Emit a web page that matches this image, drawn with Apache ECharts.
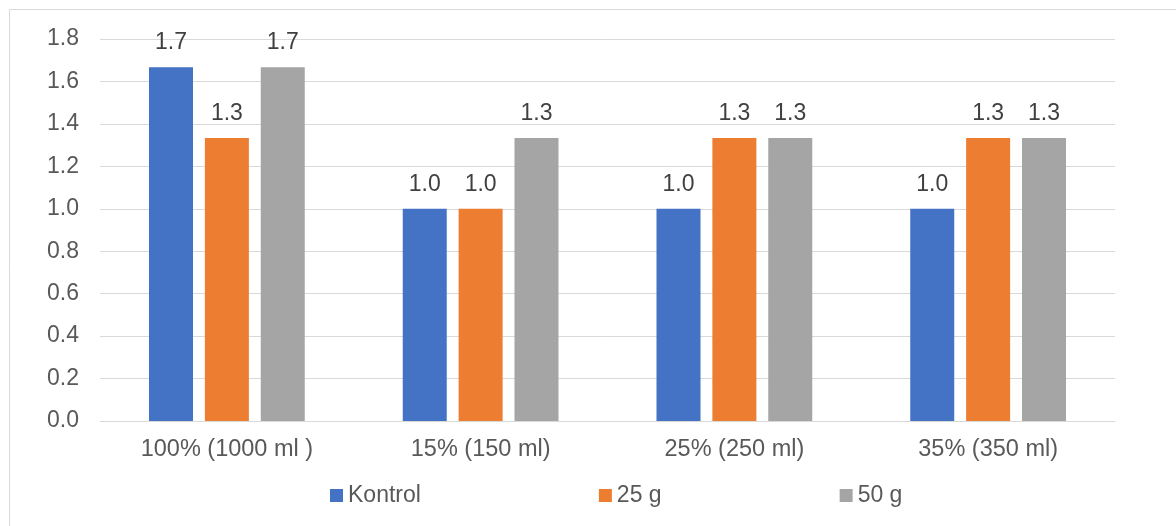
<!DOCTYPE html>
<html><head><meta charset="utf-8">
<script src="https://cdn.jsdelivr.net/npm/echarts@6/dist/echarts.min.js"></script>
<style>html,body{margin:0;padding:0;background:#fff}#c{width:1176px;height:526px}</style>
</head><body><div id="c"></div>
<script>
const categories = ['100% (1000 ml )', '15% (150 ml)', '25% (250 ml)', '35% (350 ml)'];
const kontrol = [1.667, 1.0, 1.0, 1.0];
const g25 = [1.333, 1.0, 1.333, 1.333];
const g50 = [1.667, 1.333, 1.333, 1.333];
const seriesNames = ['Kontrol', '25 g', '50 g'];
const colors = ['#4472C4', '#ED7D31', '#A5A5A5'];
const font = 'Arial, "Liberation Sans", sans-serif';
const chart = echarts.init(document.getElementById('c'), null, {renderer: 'canvas'});
const mk = (name, data, color) => ({
  name, type: 'bar', data, barWidth: 44, barGap: '27%',
  itemStyle: {color},
  label: {show: true, position: 'top', distance: 13, color: '#404040', fontSize: 23, fontFamily: font,
    formatter: p => p.value.toFixed(1)}
});
chart.setOption({
  animation: false,
  graphic: [{type: 'rect', shape: {x: 9.5, y: 9.5, width: 1200, height: 600}, style: {fill: 'none', stroke: '#d9d9d9', lineWidth: 1}, silent: true}],
  grid: {left: 100, right: 61, top: 39, bottom: 105, containLabel: false},
  legend: {left: 330, top: 484, padding: 0, itemWidth: 13, itemHeight: 13, itemGap: 178, icon: 'rect',
    textStyle: {color: '#595959', fontSize: 23, fontFamily: font},
    data: seriesNames},
  xAxis: {type: 'category', data: categories,
    axisLine: {lineStyle: {color: '#d9d9d9', width: 1}}, axisTick: {show: false},
    axisLabel: {color: '#595959', fontSize: 23.5, fontFamily: font, margin: 17}},
  yAxis: {type: 'value', min: 0, max: 1.8, interval: 0.2,
    axisLine: {show: false}, axisTick: {show: false},
    splitLine: {lineStyle: {color: '#d9d9d9', width: 1}},
    axisLabel: {color: '#595959', fontSize: 23, fontFamily: font, margin: 21, formatter: v => v.toFixed(1)}},
  series: [mk(seriesNames[0], kontrol, colors[0]), mk(seriesNames[1], g25, colors[1]), mk(seriesNames[2], g50, colors[2])]
});
</script></body></html>
